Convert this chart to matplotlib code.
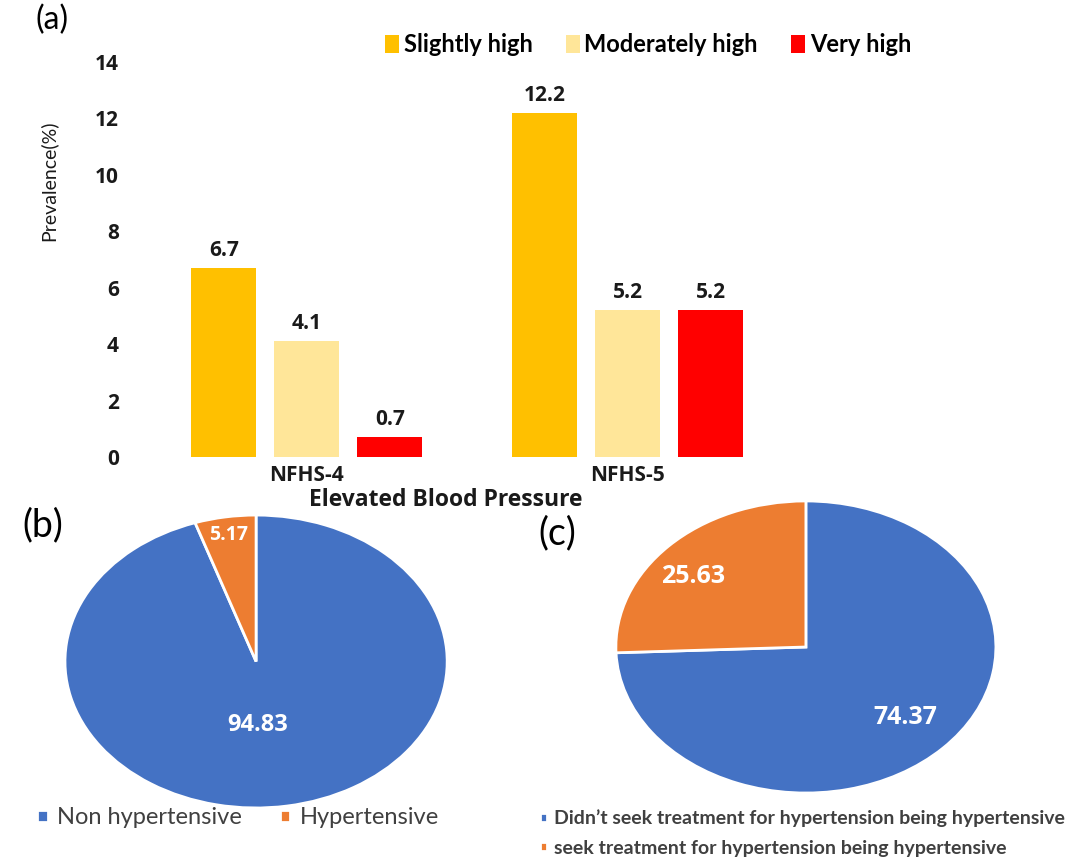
import matplotlib.pyplot as plt
import numpy as np

plt.rcParams['font.family'] = ['Open Sans', 'DejaVu Sans']

# (a) elevated blood pressure
groups = ["NFHS-4", "NFHS-5"]
levels = ["Slightly high", "Moderately high", "Very high"]
slightly_high = [6.7, 12.2]
moderately_high = [4.1, 5.2]
very_high = [0.7, 5.2]
yticks = [0, 2, 4, 6, 8, 10, 12, 14]

# (b) hypertensive share
b_labels = ["Non hypertensive", "Hypertensive"]
b_values = [94.83, 5.17]

# (c) treatment seeking
c_labels = ["Didn’t seek treatment for hypertension being hypertensive",
            "seek treatment for hypertension being hypertensive"]
c_values = [74.37, 25.63]

bar_colors = ["#FFC000", "#FFE699", "#FF0000"]
pie_colors = ["#4472C4", "#ED7D31"]
txt_gray = "#404040"

fig = plt.figure(figsize=(10.92, 8.59), dpi=100)

# ---- bar chart ----
ax = fig.add_axes([0.119, 0.468, 0.595, 0.46])
x = np.arange(len(groups))
w = 0.2025
off = 0.2586
series = [slightly_high, moderately_high, very_high]
bar_handles = []
for i, (vals, name, col) in enumerate(zip(series, levels, bar_colors)):
    bars = ax.bar(x + (i - 1) * off, vals, w, color=col, label=name)
    ax.bar_label(bars, fmt="%.1f", padding=5, fontsize=15, fontweight="bold", color="#1a1a1a")
    bar_handles.append(bars)
ax.set_xlim(-0.551, 1.473)
ax.set_ylim(0, 14)
ax.set_yticks(yticks)
ax.set_xticks(x, groups)
for s in ax.spines.values():
    s.set_visible(False)
ax.tick_params(length=0)
ax.tick_params(axis='y', pad=8, labelsize=15)
ax.tick_params(axis='x', pad=6, labelsize=15)
for t in ax.get_xticklabels() + ax.get_yticklabels():
    t.set_fontweight("bold")
    t.set_color("#1a1a1a")

fig.text(446 / 1092, 1 - 500 / 859, "Elevated Blood Pressure", ha="center", va="center",
         fontsize=16.5, fontweight="bold", color="#1a1a1a")
fig.text(48 / 1092, 1 - 181 / 859, "Prevalence(%)", rotation=90, ha="center", va="center",
         fontsize=14, family="Lato", color="#1a1a1a")
fig.legend(handles=bar_handles, labels=levels, ncol=3, loc="center",
           bbox_to_anchor=(648 / 1092, 1 - 45 / 859), frameon=False,
           prop={"family": "Lato", "size": 17, "weight": "bold"},
           handlelength=0.6, handleheight=0.8, handletextpad=0.2, columnspacing=1.4)

# ---- pie (b) ----
axb = fig.add_axes([0.0595, 0.0594, 0.350, 0.341])
wb, _ = axb.pie(b_values, colors=pie_colors, startangle=90, counterclock=False,
                wedgeprops=dict(edgecolor="white", linewidth=2))
axb.set_aspect("auto")
axb.set_xlim(-1, 1)
axb.set_ylim(-1, 1)
axb.text(0.505, 0.283, f"{b_values[0]:.2f}", transform=axb.transAxes, ha="center", va="center",
         color="white", fontsize=17, fontweight="bold")
axb.text(0.427, 0.932, f"{b_values[1]:.2f}", transform=axb.transAxes, ha="center", va="center",
         color="white", fontsize=14, fontweight="bold")
fig.legend(handles=wb, labels=b_labels, ncol=2, loc="center",
           bbox_to_anchor=(238 / 1092, 1 - 818 / 859), frameon=False,
           prop={"family": "Lato", "size": 17}, labelcolor=txt_gray,
           handlelength=0.45, handleheight=0.45, handletextpad=0.4, columnspacing=1.6)

# ---- pie (c) ----
axc = fig.add_axes([0.564, 0.0768, 0.348, 0.340])
wc, _ = axc.pie(c_values, colors=pie_colors, startangle=90, counterclock=False,
                wedgeprops=dict(edgecolor="white", linewidth=2))
axc.set_aspect("auto")
axc.set_xlim(-1, 1)
axc.set_ylim(-1, 1)
axc.text(0.761, 0.257, f"{c_values[0]:.2f}", transform=axc.transAxes, ha="center", va="center",
         color="white", fontsize=18, fontweight="bold")
axc.text(0.203, 0.740, f"{c_values[1]:.2f}", transform=axc.transAxes, ha="center", va="center",
         color="white", fontsize=18, fontweight="bold")
fig.legend(handles=wc, labels=c_labels, ncol=1, loc="center left",
           bbox_to_anchor=(536 / 1092, 1 - 833 / 859), frameon=False,
           prop={"family": "Lato", "size": 14, "weight": "bold"}, labelcolor=txt_gray,
           handlelength=0.35, handleheight=0.35, handletextpad=0.4, labelspacing=0.65,
           borderaxespad=0, borderpad=0.2)

# panel letters
fig.text(52 / 1092, 1 - 20 / 859, "(a)", ha="center", va="center", fontsize=23, family="Lato")
fig.text(43 / 1092, 1 - 525 / 859, "(b)", ha="center", va="center", fontsize=27, family="Lato")
fig.text(557 / 1092, 1 - 533 / 859, "(c)", ha="center", va="center", fontsize=27, family="Lato")

fig.savefig("out.png", dpi=100)
